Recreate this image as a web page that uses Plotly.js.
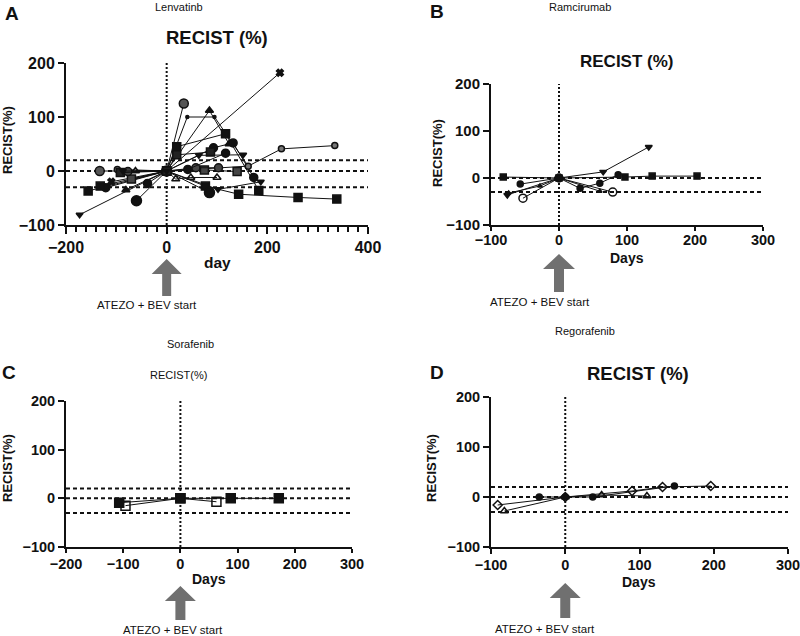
<!DOCTYPE html>
<html>
<head>
<meta charset="utf-8">
<script src="https://cdn.plot.ly/plotly-3.0.1.min.js"></script>
<style>html,body{margin:0;padding:0;background:#fff}#chart{width:800px;height:636px}</style>
</head>
<body>
<div id="chart"></div>
<script>
// ---------------- DATA ----------------
const yTicks = [-100, 0, 100, 200];
const xTicksA = [-200, 0, 200, 400];
const xTicksB = [-100, 0, 100, 200, 300];
const xTicksC = [-200, -100, 0, 100, 200, 300];
const xTicksD = [-100, 0, 100, 200, 300];
const thresholds = [20, 0, -30];
const thresholdsB = [0, -30];

// Lenvatinib (panel A): days & RECIST (%) per patient
const lenvaDays = [
  [-173, 0, 102, 187],
  [-156, 0, 20, 117, 183],
  [-133, 0, 34],
  [-81, 0, 85, 124],
  [-110, 0, 225],
  [0, 41, 95, 162],
  [-121, 0, 93, 132, 173],
  [-98, 0, 162, 228, 334],
  [-132, 0, 77, 143, 261, 338],
  [-60, 0, 85],
  [-62, 0, 18, 48, 100],
  [-70, 0, 75, 140],
  [-77, 0, 58, 103],
  [-38, 0, 42, 117],
  [-92, 0, 20, 87],
  [-87, 0, 64, 152]
];
const lenvaRecist = [
  [-81, 0, -34, -20],
  [-37, 0, 45, 69, -36],
  [0, 0, 125],
  [-35, 0, 112, 50],
  [-20, 0, 182],
  [0, 100, 100, 9],
  [-31, 0, 43, 52, -12],
  [3, 0, 9, 41, 47],
  [-28, 0, -28, -43, -49, -52],
  [-55, 0, -40],
  [0, 0, -15, -12, -12],
  [-15, 0, 2, -1],
  [-1, 0, 6, 6],
  [-23, 0, 3, 33],
  [-3, 0, 30, 35],
  [0, 0, 29, 30]
];
const lenvaSymbols = ['triangle-down','square','circle','triangle-up','x','circle','circle','circle','square','circle','triangle-up-open','square','circle','circle','square','triangle-down'];

// Ramucirumab (panel B)
const ramDays = [
  [-82, 0, 97, 137, 203],
  [-57, 0, 31, 60, 87],
  [-76, 0, 65, 132],
  [-53, 0, 79],
  [-74, -28, 0, 60]
];
const ramRecist = [
  [2, 0, 2, 4, 4],
  [-13, 0, -22, -11, 7],
  [-36, 0, 13, 66],
  [-43, 0, -30],
  [-32, -17, 0, -28]
];
const ramSymbols = ['square','circle','triangle-down','circle-open','triangle-up'];

// Sorafenib (panel C)
const soraDays = [
  [-107, 0, 88, 172],
  [-96, 0, 63]
];
const soraRecist = [
  [-9, 0, 0, 0],
  [-15, 0, -7]
];
const soraSymbols = ['square','square-open'];

// Regorafenib (panel D)
const regoDays = [
  [-91, 0, 90, 131, 196],
  [-82, 0, 49, 110],
  [-35, 0, 37, 147]
];
const regoRecist = [
  [-16, 0, 12, 20, 22],
  [-28, 0, 4, 2],
  [0, 0, 0, 22]
];
const regoSymbols = ['diamond-open','triangle-up-open','circle'];

// ---------------- HELPERS ----------------
const FONT = 'Liberation Sans, Arial, sans-serif';
const W = 800, H = 636;
const px = v => v / W;
const py = v => 1 - v / H;

const traces = [];
function addSeries(days, vals, symbols, xa, ya, sizes, fills) {
  days.forEach((d, i) => {
    const sym = symbols[i];
    const open = sym.indexOf('open') >= 0;
    traces.push({
      type: 'scatter', mode: 'lines+markers',
      x: d, y: vals[i], xaxis: xa, yaxis: ya,
      line: {color: '#111', width: 1},
      marker: {
        symbol: sym,
        size: sizes ? sizes[i] : 7,
        color: open ? '#111' : (fills ? fills[i] : '#111'),
        line: {color: '#111', width: 1.5}
      },
      hoverinfo: 'x+y', showlegend: false
    });
  });
}
addSeries(lenvaDays, lenvaRecist, lenvaSymbols, 'x', 'y',
  [6,8,9,7,6,3,8,6,8,10,7,8,8,8,8,6],
  ['#111','#111','#555','#111','#111','#111','#111','#777','#111','#111','#111','#444','#444','#111','#222','#111']);
addSeries(ramDays, ramRecist, ramSymbols, 'x2', 'y2', [6,6,6,8,4]);
addSeries(soraDays, soraRecist, soraSymbols, 'x3', 'y3', [9,9]);
addSeries(regoDays, regoRecist, regoSymbols, 'x4', 'y4', [7,7,6]);

function xAxis(domain, range, tickvals, anchor, fs, tl, so, minor) {
  const a = {
    domain, range, anchor, tickmode: 'array', tickvals,
    showline: true, linewidth: 2, linecolor: '#111', mirror: false,
    ticks: 'outside', ticklen: tl, tickwidth: 2, tickcolor: '#111',
    showgrid: false, zeroline: false, fixedrange: true,
    ticklabeloverflow: 'allow', ticklabelstandoff: so,
    tickfont: {family: FONT, size: fs, weight: 'bold', color: '#111'}
  };
  if (minor) a.minor = {tickmode: 'linear', tick0: range[0], dtick: minor, ticks: 'outside', ticklen: 5, tickwidth: 2, tickcolor: '#111', showgrid: false};
  return a;
}
function yAxis(domain, anchor, fs) {
  return {
    domain, range: [-100, 200], anchor, tickmode: 'array', tickvals: yTicks,
    showline: true, linewidth: 2, linecolor: '#111',
    ticks: 'outside', ticklen: 6, tickwidth: 2, tickcolor: '#111',
    showgrid: false, zeroline: false, fixedrange: true, ticklabeloverflow: 'allow',
    tickfont: {family: FONT, size: fs, weight: 'bold', color: '#111'}
  };
}

const shapes = [];
function refLines(xn, yn, levels) {
  levels.forEach(v => shapes.push({
    type: 'line', xref: xn + ' domain', yref: yn, x0: 0, x1: 1, y0: v, y1: v,
    line: {color: '#111', width: 2, dash: '4px,3px'}, layer: 'below'
  }));
  shapes.push({
    type: 'line', xref: xn, yref: yn + ' domain', x0: 0, x1: 0, y0: 0, y1: 1,
    line: {color: '#111', width: 2, dash: '2px,2px'}, layer: 'below'
  });
}
refLines('x', 'y', thresholds);
refLines('x2', 'y2', thresholdsB);
refLines('x3', 'y3', thresholds);
refLines('x4', 'y4', thresholds);

function arrow(xn, yn, top, head, bottom, hw, sw) {
  shapes.push({
    type: 'path', xref: xn, yref: yn + ' domain', xsizemode: 'pixel', ysizemode: 'pixel',
    xanchor: 0, yanchor: 0,
    path: `M0,${-top} L${hw},${-head} L${sw},${-head} L${sw},${-bottom} L${-sw},${-bottom} L${-sw},${-head} L${-hw},${-head} Z`,
    fillcolor: '#707070', line: {width: 0}
  });
}
arrow('x', 'y', 34, 49, 71, 15, 4.5);
arrow('x2', 'y2', 29, 44, 67, 16, 5);
arrow('x3', 'y3', 39, 54, 73, 15.5, 5);
arrow('x4', 'y4', 36, 51, 71, 15.5, 5);

const annotations = [];
function txt(text, x, y, size, bold, angle) {
  annotations.push({
    text, x: px(x), y: py(y), xref: 'paper', yref: 'paper', showarrow: false,
    xanchor: 'center', yanchor: 'middle', textangle: angle || 0,
    font: {family: FONT, size, color: '#111', weight: bold ? 'bold' : 'normal'}
  });
}
// panel letters
txt('A', 12, 13, 19, true);
txt('B', 437, 12, 19, true);
txt('C', 9, 372, 19, true);
txt('D', 437, 372, 19, true);
// drug names
txt('Lenvatinb', 179, 7, 11);
txt('Ramcirumab', 580, 7, 11);
txt('Sorafenib', 190, 344, 11);
txt('Regorafenib', 585, 331, 11);
// chart titles
txt('RECIST (%)', 217, 37, 18.5, true);
txt('RECIST (%)', 627, 62, 17, true);
txt('RECIST(%)', 178, 375, 11);
txt('RECIST (%)', 638, 373, 18.5, true);
// axis titles
txt('RECIST(%)', 8, 140, 13, true, -90);
txt('day', 217, 262, 15.5, true);
txt('RECIST(%)', 437, 153, 13, true, -90);
txt('Days', 627, 258, 14, true);
txt('RECIST(%)', 8, 468, 13, true, -90);
txt('Days', 209, 579, 14, true);
txt('RECIST(%)', 432, 468, 13, true, -90);
txt('Days', 639, 582, 14, true);
// arrow labels
txt('ATEZO + BEV start', 147, 305, 11.5);
txt('ATEZO + BEV start', 540, 302, 11.5);
txt('ATEZO + BEV start', 173, 630, 11.5);
txt('ATEZO + BEV start', 545, 629, 11.5);

const layout = {
  width: W, height: H, margin: {l: 0, r: 0, t: 0, b: 0},
  paper_bgcolor: '#fff', plot_bgcolor: 'rgba(0,0,0,0)', showlegend: false,
  xaxis:  xAxis([px(66), px(368)], [-200, 400], xTicksA, 'y', 16, 7, 0, 20),
  yaxis:  yAxis([py(225), py(63)], 'x', 16),
  xaxis2: xAxis([px(491), px(763)], [-100, 300], xTicksB, 'y2', 14.5, 4, -3),
  yaxis2: yAxis([py(225), py(84)], 'x2', 15),
  xaxis3: xAxis([px(66), px(352)], [-200, 300], xTicksC, 'y3', 14.5, 4, -1),
  yaxis3: yAxis([py(547), py(401)], 'x3', 14.5),
  xaxis4: xAxis([px(491), px(788)], [-100, 300], xTicksD, 'y4', 14.5, 5, -1),
  yaxis4: yAxis([py(547), py(397)], 'x4', 14.5),
  shapes, annotations
};
Plotly.newPlot('chart', traces, layout, {displayModeBar: false, staticPlot: true});
</script>
</body>
</html>
